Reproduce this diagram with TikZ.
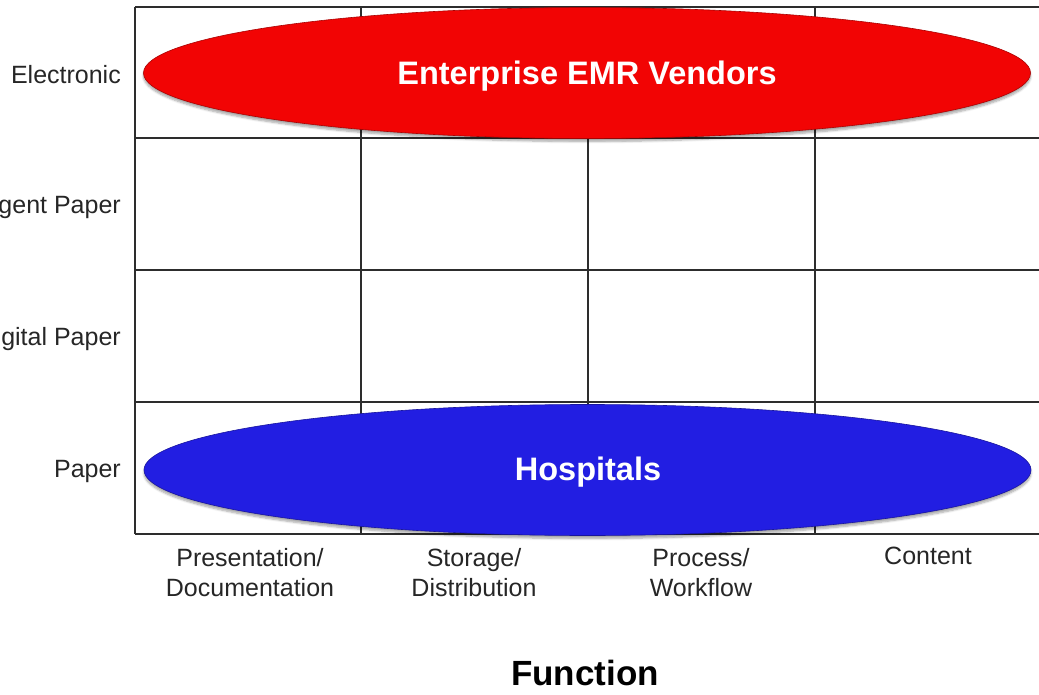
\documentclass[tikz,border=0pt]{standalone}
\usepackage{fontspec}
\setmainfont{Liberation Sans}
\usetikzlibrary{shapes.geometric,shadows.blur}
\definecolor{emrred}{RGB}{242,4,4}
\definecolor{hospblue}{RGB}{34,30,226}
\definecolor{gridline}{RGB}{45,45,45}
\tikzset{
  gridstyle/.style={draw=gridline,line width=1.6pt},
  rowlabel/.style={anchor=east,inner sep=0pt,font=\fontsize{25}{28}\selectfont,text=black!85},
  collabel/.style={align=center,inner sep=0pt,font=\fontsize{25}{30}\selectfont,text=black!85},
  blob/.style={ellipse,minimum width=887pt,minimum height=131pt,inner sep=0pt,draw=#1!70!black,line width=0.6pt,
    fill=#1,text=white,font=\bfseries\fontsize{32.5}{36}\selectfont,
    blur shadow={shadow xshift=0pt,shadow yshift=-3pt,shadow blur steps=6,shadow opacity=35}},
}
\begin{document}
\begin{tikzpicture}[x=1pt,y=-1pt]
\useasboundingbox (0,0) rectangle (1039,695);
% grid
\draw[gridstyle] (135,7) -- (1039,7);
\draw[gridstyle] (135,138) -- (1039,138);
\draw[gridstyle] (135,270) -- (1039,270);
\draw[gridstyle] (135,402) -- (1039,402);
\draw[gridstyle] (135,534) -- (1039,534);
\draw[gridstyle] (135,7) -- (135,534);
\draw[gridstyle] (361,7) -- (361,534);
\draw[gridstyle] (588,7) -- (588,534);
\draw[gridstyle] (815,7) -- (815,534);
% ellipses
\node[blob=emrred] (emr) at (587,73) {};
\node[blob=hospblue] (hosp) at (587.5,470) {};
\node[text=white,inner sep=0pt,font=\bfseries\fontsize{32.5}{36}\selectfont] (emrt) at (587,76) {Enterprise EMR Vendors};
\node[text=white,inner sep=0pt,font=\bfseries\fontsize{32.5}{36}\selectfont] (hospt) at (588,472) {Hospitals};
% row labels
\node[rowlabel] (r1) at (121,75) {Electronic};
\node[rowlabel] (r2) at (121,207) {Intelligent Paper};
\node[rowlabel] (r3) at (121,339) {Digital Paper};
\node[rowlabel] (r4) at (121,471) {Paper};
% column labels
\node[collabel] (c1) at (250,573) {Presentation/\\Documentation};
\node[collabel] (c2) at (474,573) {Storage/\\Distribution};
\node[collabel] (c3) at (701,573) {Process/\\Workflow};
\node[collabel,anchor=north] (c4) at (928,547) {Content};
\node[inner sep=0pt,font=\bfseries\fontsize{35}{40}\selectfont] (fn) at (585,673) {Function};
\end{tikzpicture}
\end{document}
